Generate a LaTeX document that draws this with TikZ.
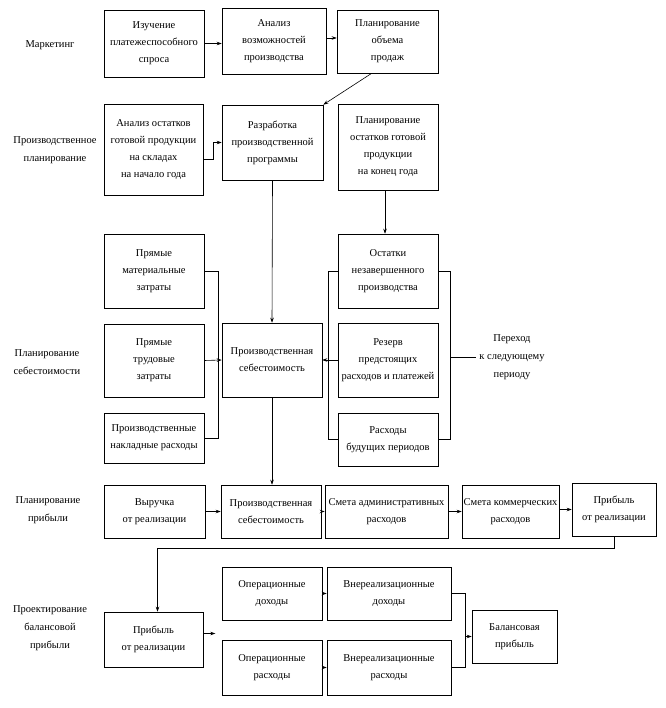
\documentclass[tikz,border=0pt]{standalone}
\usepackage{fontspec}
\setmainfont{Liberation Serif}
\usetikzlibrary{arrows.meta,calc}
\begin{document}
\begin{tikzpicture}[x=1pt,y=-1pt,
  box/.style={draw, line width=0.6pt, align=center, inner sep=1pt, font=\fontsize{10.5}{17}\selectfont},
  lbl/.style={align=center, inner sep=1pt, font=\fontsize{10.5}{18}\selectfont},
  line/.style={line width=0.6pt},
  arr/.style={line width=0.6pt, -{Stealth[length=5pt,width=3.5pt]}}]
\useasboundingbox (0,0) rectangle (665,708);
% labels
\node[lbl] (lm) at (50,45) {Маркетинг};
\node[lbl] (lp) at (55,150) {Производственное\\планирование};
\node[lbl] (ls) at (47,362) {Планирование\\себестоимости};
\node[lbl] (lpr) at (48,510) {Планирование\\прибыли};
\node[lbl] (lb) at (50,628) {Проектирование\\балансовой\\прибыли};
% row 1
\node[box, minimum width=100pt, minimum height=67pt] (A1) at (154,43.5) {Изучение\\платежеспособного\\спроса};
\node[box, minimum width=104pt, minimum height=66pt] (A2) at (274,41) {Анализ\\возможностей\\производства};
\node[box, minimum width=101pt, minimum height=63pt] (A3) at (387.5,41.5) {Планирование\\объема\\продаж};
% row 2
\node[box, minimum width=99pt, minimum height=91pt] (B1) at (153.5,149.5) {Анализ остатков\\готовой продукции\\на складах\\на начало года};
\node[box, minimum width=101pt, minimum height=75pt] (B2) at (272.5,142.5) {Разработка\\производственной\\программы};
\node[box, minimum width=100pt, minimum height=86pt] (B3) at (388,147) {Планирование\\остатков готовой\\продукции\\на конец года};
% cost block
\node[box, minimum width=100pt, minimum height=74pt] (L1) at (154,271) {Прямые\\материальные\\затраты};
\node[box, minimum width=100pt, minimum height=73pt] (L2) at (154,360.5) {Прямые\\трудовые\\затраты};
\node[box, minimum width=100pt, minimum height=50pt] (L3) at (154,438) {Производственные\\накладные расходы};
\node[box, minimum width=100pt, minimum height=74pt] (CC) at (272,360) {Производственная\\себестоимость};
\node[box, minimum width=100pt, minimum height=74pt] (C2) at (388,271) {Остатки\\незавершенного\\производства};
\node[box, minimum width=100pt, minimum height=74pt] (C3) at (388,360) {Резерв\\предстоящих\\расходов и платежей};
\node[box, minimum width=100pt, minimum height=53pt] (C4) at (388,439.5) {Расходы\\будущих периодов};
\node[lbl, inner sep=3pt] (PX) at (512,357) {Переход\\к следующему\\периоду};
% row 4
\node[box, minimum width=101pt, minimum height=53pt] (D1) at (154.5,511.5) {Выручка\\от реализации};
\node[box, minimum width=100pt, minimum height=53pt] (D2) at (271,511.5) {Производственная\\себестоимость};
\node[box, minimum width=123pt, minimum height=53pt] (D3) at (386.5,511.5) {Смета административных\\расходов};
\node[box, minimum width=97pt, minimum height=53pt] (D4) at (510.5,511.5) {Смета коммерческих\\расходов};
\node[box, minimum width=84pt, minimum height=53pt] (D5) at (614,509.5) {Прибыль\\от реализации};
% row 5
\node[box, minimum width=99pt, minimum height=55pt] (E1) at (153.5,639.5) {Прибыль\\от реализации};
\node[box, minimum width=100pt, minimum height=53pt] (E2) at (272,593.5) {Операционные\\доходы};
\node[box, minimum width=124pt, minimum height=53pt] (E3) at (389,593.5) {Внереализационные\\доходы};
\node[box, minimum width=100pt, minimum height=55pt] (E4) at (272,667.5) {Операционные\\расходы};
\node[box, minimum width=124pt, minimum height=55pt] (E5) at (389,667.5) {Внереализационные\\расходы};
\node[box, minimum width=85pt, minimum height=53pt] (E6) at (514.5,636.5) {Балансовая\\прибыль};
% connectors row 1-2
\draw[arr] (A1.east) -- (A1.east -| A2.west);
\draw[arr] ([yshift=3pt]A2.east) -- ([yshift=3pt]A2.east -| A3.west);
\draw[arr] ($(A3.south west)+(35,0)$) -- (B2.north east);
\draw[arr] ([yshift=-10pt]B1.east) -- ++(10,0) |- (B2.west);
\draw[arr] (B2.south) -- (CC.north);
\draw[arr] ([xshift=-3pt]B3.south) -- ([xshift=-3pt]C2.north);
% cost block
\draw[line] (L1.east) -- ++(14,0) |- (L3.east);
\draw[arr] (L2.east) -- (CC.west);
\draw[line] (C2.west) -- ++(-9,0) |- (C4.west);
\draw[arr] (C3.west) -- (CC.east);
\draw[line] (C2.east) -- ++(12,0) coordinate (rb) |- (C4.east);
\draw[line] (rb |- PX.west) -- (PX.west);
\draw[arr] (CC.south) -- (CC.south |- D2.north);
% row 4
\draw[arr] (D1.east) -- (D2.west);
\draw[arr] (D2.east) -- (D3.west);
\draw[arr] (D3.east) -- (D4.west);
\draw[arr] (D4.east |- D5.west) -- (D5.west);
\draw[arr] (D5.south) -- ++(0,12) -| ([xshift=4pt]E1.north);
% row 5
\draw[arr] ([yshift=6pt]E1.east) -- ++(12,0) coordinate (e1end);
\draw[arr] (E2.east) -- (E3.west);
\draw[arr] (E4.east) -- (E5.west);
\draw[line] (E3.east) -- ++(14,0) coordinate (bb) |- (E5.east);
\draw[arr] (bb |- E6.west) -- (E6.west);
\end{tikzpicture}
\end{document}
